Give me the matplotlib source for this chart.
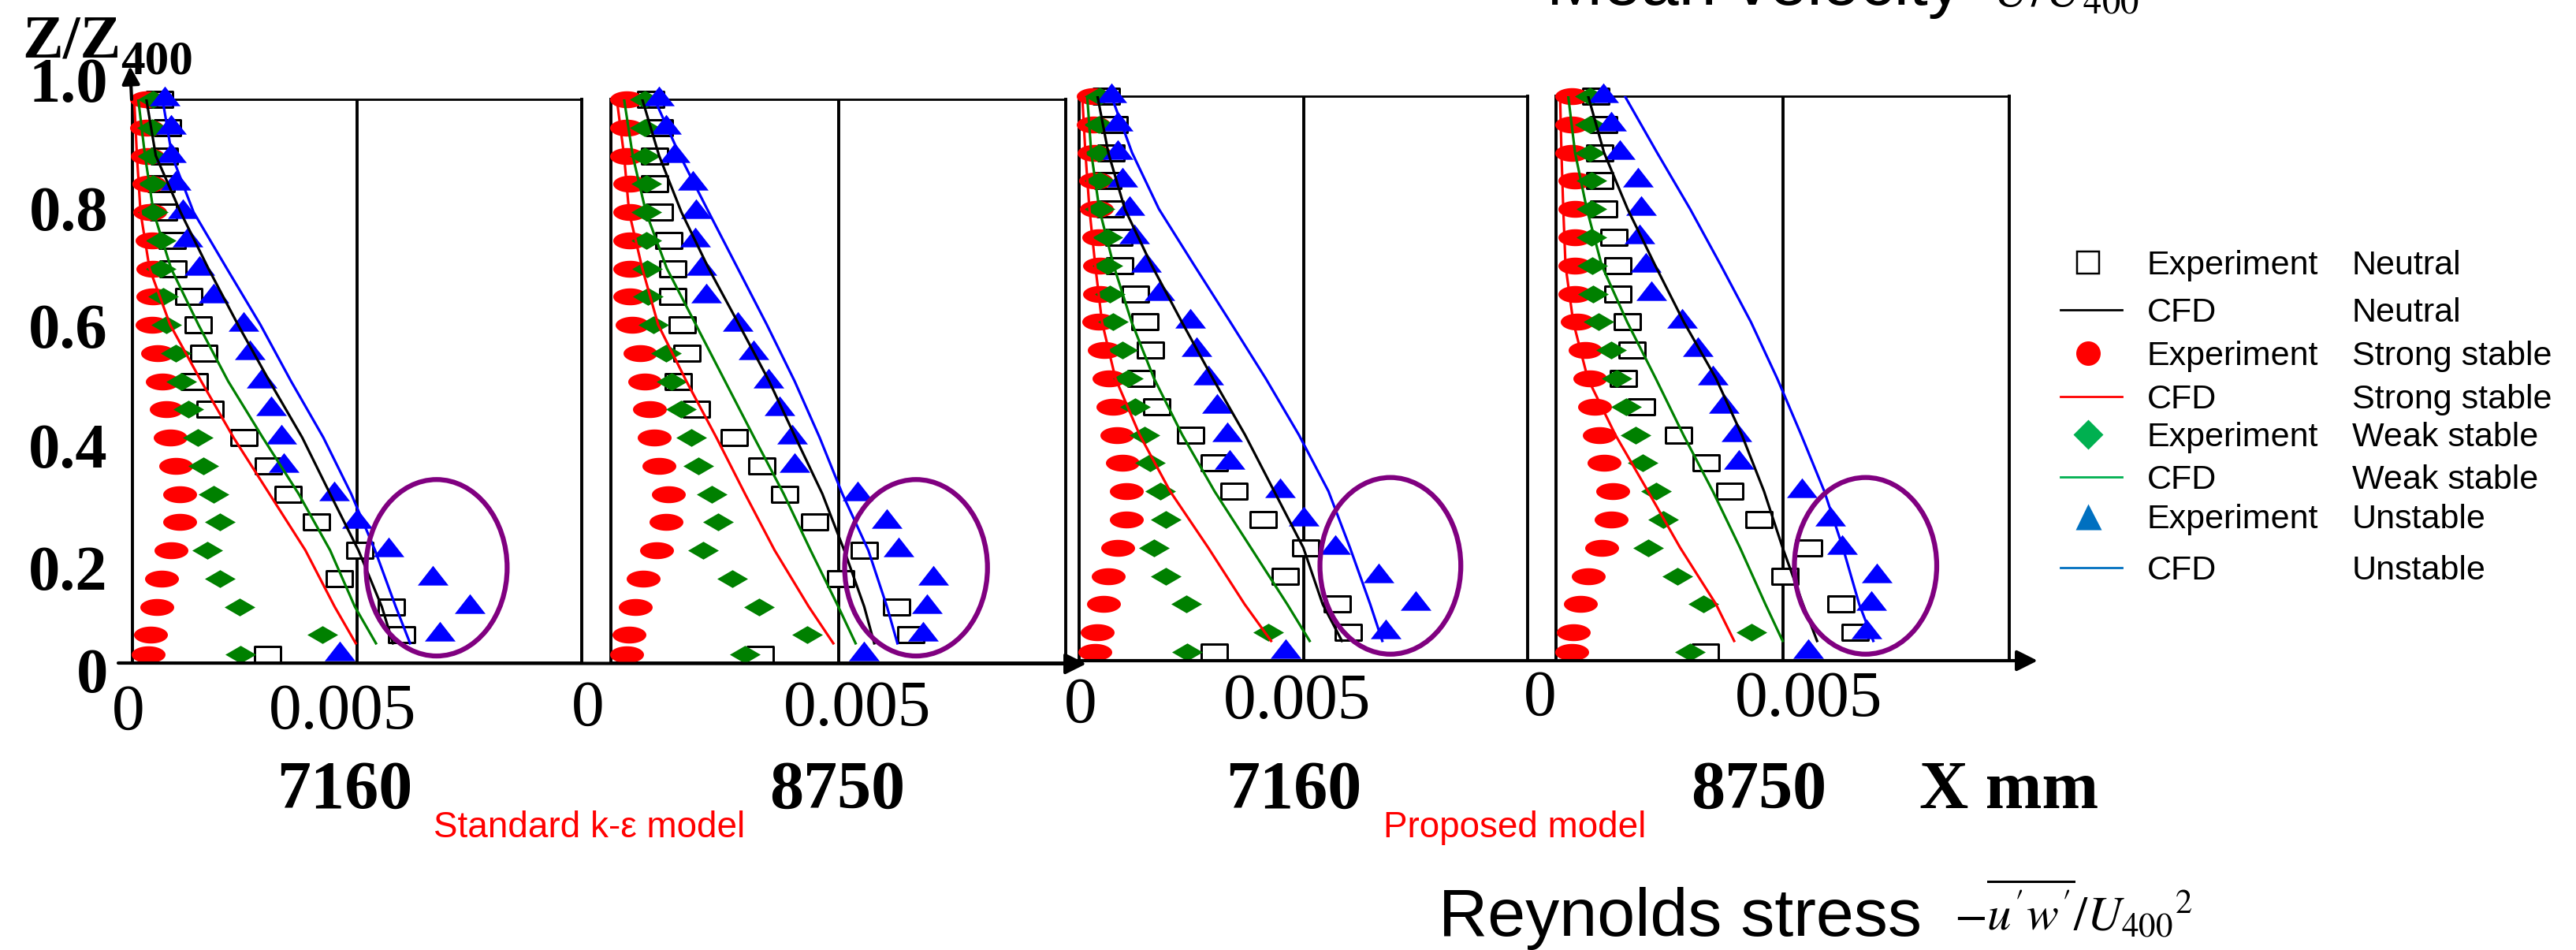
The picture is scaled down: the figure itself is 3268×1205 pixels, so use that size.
"""
Reynolds stress profiles -u'w'/U400^2 at X = 7160 / 8750 mm,
standard k-e model vs proposed model, four stratification cases.
"""

import numpy as np
import matplotlib
import matplotlib.pyplot as plt
from matplotlib.path import Path
from matplotlib.patches import Ellipse

matplotlib.rcParams['font.family'] = ['Liberation Sans', 'DejaVu Sans']
matplotlib.rcParams['mathtext.fontset'] = 'stix'

W, H = 3268, 1205
SERIF = 'Liberation Serif'
PX = 72 / 100          # points per pixel at dpi=100

# ---------------- data ----------------
# heights Z/Z400
z_exp = [1.0, 0.95, 0.9, 0.85, 0.8, 0.75, 0.7, 0.65, 0.6, 0.55, 0.5,
         0.45, 0.4, 0.35, 0.3, 0.25, 0.2, 0.15, 0.1, 0.05, 0.015]
z_cfd = [1.0, 0.9, 0.8, 0.7, 0.6, 0.5, 0.4, 0.3, 0.2, 0.1, 0.035]

# experiment, -u'w'/U400^2 in units of 1e-3
exp7160_neutral = [0.59, 0.77, 0.70, 0.63, 0.68, 0.88, 0.90, 1.25, 1.46, 1.58, 1.37,
                   1.72, 2.48, 3.01, 3.45, 4.09, 5.05, 4.59, 5.75, 5.99, 3.00]
exp7160_strong = [0.31, 0.31, 0.33, 0.37, 0.38, 0.44, 0.45, 0.45, 0.44, 0.57, 0.67,
                  0.75, 0.85, 0.96, 1.06, 1.06, 0.86, 0.65, 0.55, 0.40, 0.35]
exp7160_weak = [0.45, 0.44, 0.44, 0.45, 0.45, 0.63, 0.63, 0.68, 0.75, 0.97, 1.09,
                1.24, 1.45, 1.58, 1.81, 1.94, 1.67, 1.94, 2.39, 4.22, 2.40]
exp7160_unstable = [0.72, 0.86, 0.86, 0.97, 1.13, 1.23, 1.49, 1.80, 2.47, 2.61, 2.88,
                    3.08, 3.31, 3.36, 4.49, 5.00, 5.71, 6.68, 7.50, 6.84, 4.61]

exp8750_neutral = [0.87, 1.05, 0.96, 0.96, 1.05, 1.27, 1.36, 1.36, 1.56, 1.67, 1.47,
                   1.87, 2.70, 3.31, 3.82, 4.47, 5.56, 5.04, 6.28, 6.59, 3.28]
exp8750_strong = [0.34, 0.34, 0.34, 0.42, 0.42, 0.42, 0.42, 0.42, 0.47, 0.64, 0.75,
                  0.85, 0.96, 1.06, 1.26, 1.21, 1.00, 0.71, 0.54, 0.39, 0.34]
exp8750_weak = [0.75, 0.75, 0.75, 0.78, 0.78, 0.78, 0.80, 0.82, 0.94, 1.21, 1.34,
                1.54, 1.76, 1.92, 2.21, 2.36, 2.03, 2.67, 3.26, 4.31, 2.95]
exp8750_unstable = [1.05, 1.21, 1.40, 1.81, 1.87, 1.85, 1.99, 2.10, 2.79, 3.13, 3.46,
                    3.71, 3.98, 4.04, 5.43, 6.06, 6.32, 7.08, 6.95, 6.86, 5.56]

# CFD, standard k-e model
std7160_neutral = [0.31, 0.52, 1.07, 1.69, 2.35, 3.05, 3.78, 4.40, 5.03, 5.55, 5.80]
std7160_strong = [0.04, 0.10, 0.18, 0.38, 0.84, 1.53, 2.25, 3.05, 3.85, 4.50, 4.97]
std7160_weak = [0.13, 0.28, 0.47, 0.86, 1.47, 2.13, 2.90, 3.70, 4.40, 4.95, 5.42]
std7160_unstable = [0.67, 0.88, 1.36, 2.10, 2.85, 3.53, 4.25, 4.87, 5.40, 5.86, 6.18]

std8750_neutral = [0.69, 1.06, 1.55, 2.15, 2.82, 3.48, 4.06, 4.65, 5.13, 5.57, 5.79]
std8750_strong = [0.13, 0.29, 0.40, 0.69, 1.04, 1.66, 2.32, 2.95, 3.60, 4.35, 4.89]
std8750_weak = [0.29, 0.48, 0.77, 1.23, 1.87, 2.51, 3.15, 3.80, 4.39, 5.00, 5.38]
std8750_unstable = [0.96, 1.52, 2.15, 2.79, 3.43, 4.04, 4.59, 5.09, 5.66, 6.07, 6.30]

# CFD, proposed model
prop7160_neutral = [0.41, 0.65, 1.02, 1.62, 2.29, 2.98, 3.70, 4.35, 5.00, 5.43, 5.86]
prop7160_strong = [0.07, 0.14, 0.23, 0.36, 0.51, 0.81, 1.35, 2.03, 2.88, 3.69, 4.28]
prop7160_weak = [0.18, 0.27, 0.45, 0.77, 1.17, 1.67, 2.30, 3.02, 3.83, 4.64, 5.14]
prop7160_unstable = [0.72, 1.18, 1.78, 2.57, 3.37, 4.16, 4.90, 5.56, 6.04, 6.49, 6.76]

prop8750_neutral = [0.71, 1.06, 1.58, 2.19, 2.82, 3.53, 4.10, 4.59, 5.00, 5.45, 5.76]
prop8750_strong = [0.09, 0.12, 0.16, 0.21, 0.38, 0.70, 1.31, 2.03, 2.74, 3.53, 3.93]
prop8750_weak = [0.27, 0.42, 0.68, 1.01, 1.57, 2.20, 2.81, 3.46, 4.06, 4.62, 5.00]
prop8750_unstable = [1.52, 2.23, 2.96, 3.64, 4.30, 4.88, 5.41, 5.92, 6.33, 6.69, 7.00]

station_labels = ['7160', '8750', '7160', '8750']

# ---------------- layout ----------------
panel_boxes = [(168, 126, 738, 841), (775, 126, 1352, 841),
               (1369, 122, 1938, 838), (1974, 122, 2549, 838)]
circle_centers = [(6.77, 0.169), (6.71, 0.169), (6.94, 0.168), (6.83, 0.168)]

panels = [
    (exp7160_neutral, exp7160_strong, exp7160_weak, exp7160_unstable,
     std7160_neutral, std7160_strong, std7160_weak, std7160_unstable),
    (exp8750_neutral, exp8750_strong, exp8750_weak, exp8750_unstable,
     std8750_neutral, std8750_strong, std8750_weak, std8750_unstable),
    (exp7160_neutral, exp7160_strong, exp7160_weak, exp7160_unstable,
     prop7160_neutral, prop7160_strong, prop7160_weak, prop7160_unstable),
    (exp8750_neutral, exp8750_strong, exp8750_weak, exp8750_unstable,
     prop8750_neutral, prop8750_strong, prop8750_weak, prop8750_unstable),
]

# wide markers
t = np.linspace(0, 2 * np.pi, 48)
m_ellipse = Path(np.c_[np.cos(t), 0.5 * np.sin(t)], closed=True)
m_diamond = Path([(0, 0.58), (1, 0), (0, -0.58), (-1, 0), (0, 0.58)], closed=True)
m_rect = Path([(-1, -0.58), (1, -0.58), (1, 0.58), (-1, 0.58), (-1, -0.58)], closed=True)
m_tri = Path([(-1, -0.42), (1, -0.42), (0, 0.86), (-1, -0.42)], closed=True)

RED, GREEN, BLUE, PURPLE = '#FF0000', '#008000', '#0000FF', '#800080'

fig = plt.figure(figsize=(W / 100, H / 100), dpi=100)


def px_rect(l, t_, r, b):
    return [l / W, 1 - b / H, (r - l) / W, (b - t_) / H]


for box, data, cc in zip(panel_boxes, panels, circle_centers):
    e_neu, e_str, e_wk, e_uns, c_neu, c_str, c_wk, c_uns = data
    ax = fig.add_axes(px_rect(*box))
    ax.set_xlim(0, 10)          # x in units of 1e-3
    ax.set_ylim(0, 1)
    ax.set_xticks([])
    ax.set_yticks([])
    for side in ['left', 'right', 'bottom']:
        ax.spines[side].set_linewidth(2.8)
    ax.spines['top'].set_linewidth(2.0)
    ax.axvline(5, color='k', lw=2.8, zorder=1)

    ax.plot(e_neu, z_exp, ls='none', marker=m_rect, ms=33 * PX, mfc='white',
            mec='k', mew=3 * PX, clip_on=False, zorder=3)
    ax.plot(e_str, z_exp, ls='none', marker=m_ellipse, ms=43 * PX, mfc=RED,
            mec='none', clip_on=False, zorder=4)
    ax.plot(e_wk, z_exp, ls='none', marker=m_diamond, ms=39 * PX, mfc=GREEN,
            mec='none', clip_on=False, zorder=5)
    ax.plot(e_uns, z_exp, ls='none', marker=m_tri, ms=39 * PX, mfc=BLUE,
            mec='none', clip_on=False, zorder=6)

    ax.plot(c_str, z_cfd, color=RED, lw=2.3, zorder=7)
    ax.plot(c_wk, z_cfd, color=GREEN, lw=2.3, zorder=7)
    ax.plot(c_neu, z_cfd, color='k', lw=2.3, zorder=7)
    ax.plot(c_uns, z_cfd, color=BLUE, lw=2.3, zorder=7)

    ax.add_patch(Ellipse(cc, 3.14, 0.313, fill=False, ec=PURPLE, lw=4.5,
                         clip_on=False, zorder=8))

# overlay in pixel coordinates (y downwards)
ov = fig.add_axes([0, 0, 1, 1])
ov.set_xlim(0, W)
ov.set_ylim(H, 0)
ov.axis('off')


def ctext(x, yc, s, size, ha='center', **kw):
    # place text by the visual centre of its digits / capitals
    ov.text(x, yc + 0.35 * size / PX, s, size=size, ha=ha, va='baseline', **kw)


# axis arrows
arrow = dict(arrowstyle='-|>', color='k', lw=3, mutation_scale=40,
             shrinkA=0, shrinkB=0)
ov.annotate('', xy=(1378, 842), xytext=(150, 841), arrowprops=arrow)
ov.annotate('', xy=(2585, 838), xytext=(1360, 838), arrowprops=arrow)
ov.annotate('', xy=(165, 84), xytext=(167, 126),
            arrowprops=dict(arrow, mutation_scale=34))

# y labels
ytick_labels = ['0', '0.2', '0.4', '0.6', '0.8', '1.0']
ytick_label_y = [850, 720, 565, 413, 264, 101]
for s, y in zip(ytick_labels, ytick_label_y):
    ctext(137, y, s, 58, ha='right', family=SERIF, weight='bold')
ov.text(28, 72, 'Z/Z', size=56, family=SERIF, weight='bold', va='baseline')
ov.text(153, 93, '400', size=44, family=SERIF, weight='bold', va='baseline')

# x tick labels under each panel
xtick_zero_pos = [(163, 896), (746, 891), (1371, 887), (1954, 878)]
xtick_half_pos = [(435, 895), (1088, 891), (1646, 882), (2295, 879)]
for (x0, y0), (x1, y1) in zip(xtick_zero_pos, xtick_half_pos):
    ctext(x0, y0, '0', 60, family=SERIF)
    ctext(x1, y1, '0.005', 60, family=SERIF)

station_x = [437, 1062, 1641, 2231]
for s, x in zip(station_labels, station_x):
    ctext(x, 995, s, 62, family=SERIF, weight='bold')
ctext(2549, 995, 'X mm', 62, family=SERIF, weight='bold')

ov.text(748, 1062, 'Standard k-\u03b5 model', size=33, color=RED,
        ha='center', va='baseline')
ov.text(1922, 1062, 'Proposed model', size=33, color=RED,
        ha='center', va='baseline')

ov.text(1825, 1187, 'Reynolds stress', size=62, va='baseline')
ov.text(2479, 1180, r"$-\overline{u'w'}/U_{400}{}^{2}$", size=44, va='baseline')
ov.text(1962, 6, 'Mean velocity', size=62, va='baseline')
ov.text(2528, 8, r'$U/U_{400}$', size=48, va='baseline')

# legend
leg_y = [333, 393, 448, 503, 551, 605, 655, 720]
leg_col1 = ['Experiment', 'CFD'] * 4
leg_col2 = ['Neutral', 'Neutral', 'Strong stable', 'Strong stable',
            'Weak stable', 'Weak stable', 'Unstable', 'Unstable']
leg_handles = [
    dict(marker='s', ms=28 * PX, mfc='white', mec='k', mew=2.5 * PX),
    dict(color='k'),
    dict(marker='o', ms=31 * PX, mfc=RED, mec='none'),
    dict(color=RED),
    dict(marker='D', ms=27 * PX, mfc='#00B050', mec='none'),
    dict(color='#00B050'),
    dict(marker='^', ms=33 * PX, mfc='#0070C0', mec='none'),
    dict(color='#0070C0'),
]
for y, c1, c2, hd in zip(leg_y, leg_col1, leg_col2, leg_handles):
    if 'marker' in hd:
        ov.plot([2649], [y], ls='none', **hd)
    else:
        ov.plot([2614, 2692], [y, y], lw=2, **hd)
    ctext(2724, y, c1, 31, ha='left')
    ctext(2984, y, c2, 31, ha='left')

fig.savefig('out.png', dpi=100, facecolor='white')
plt.close(fig)
